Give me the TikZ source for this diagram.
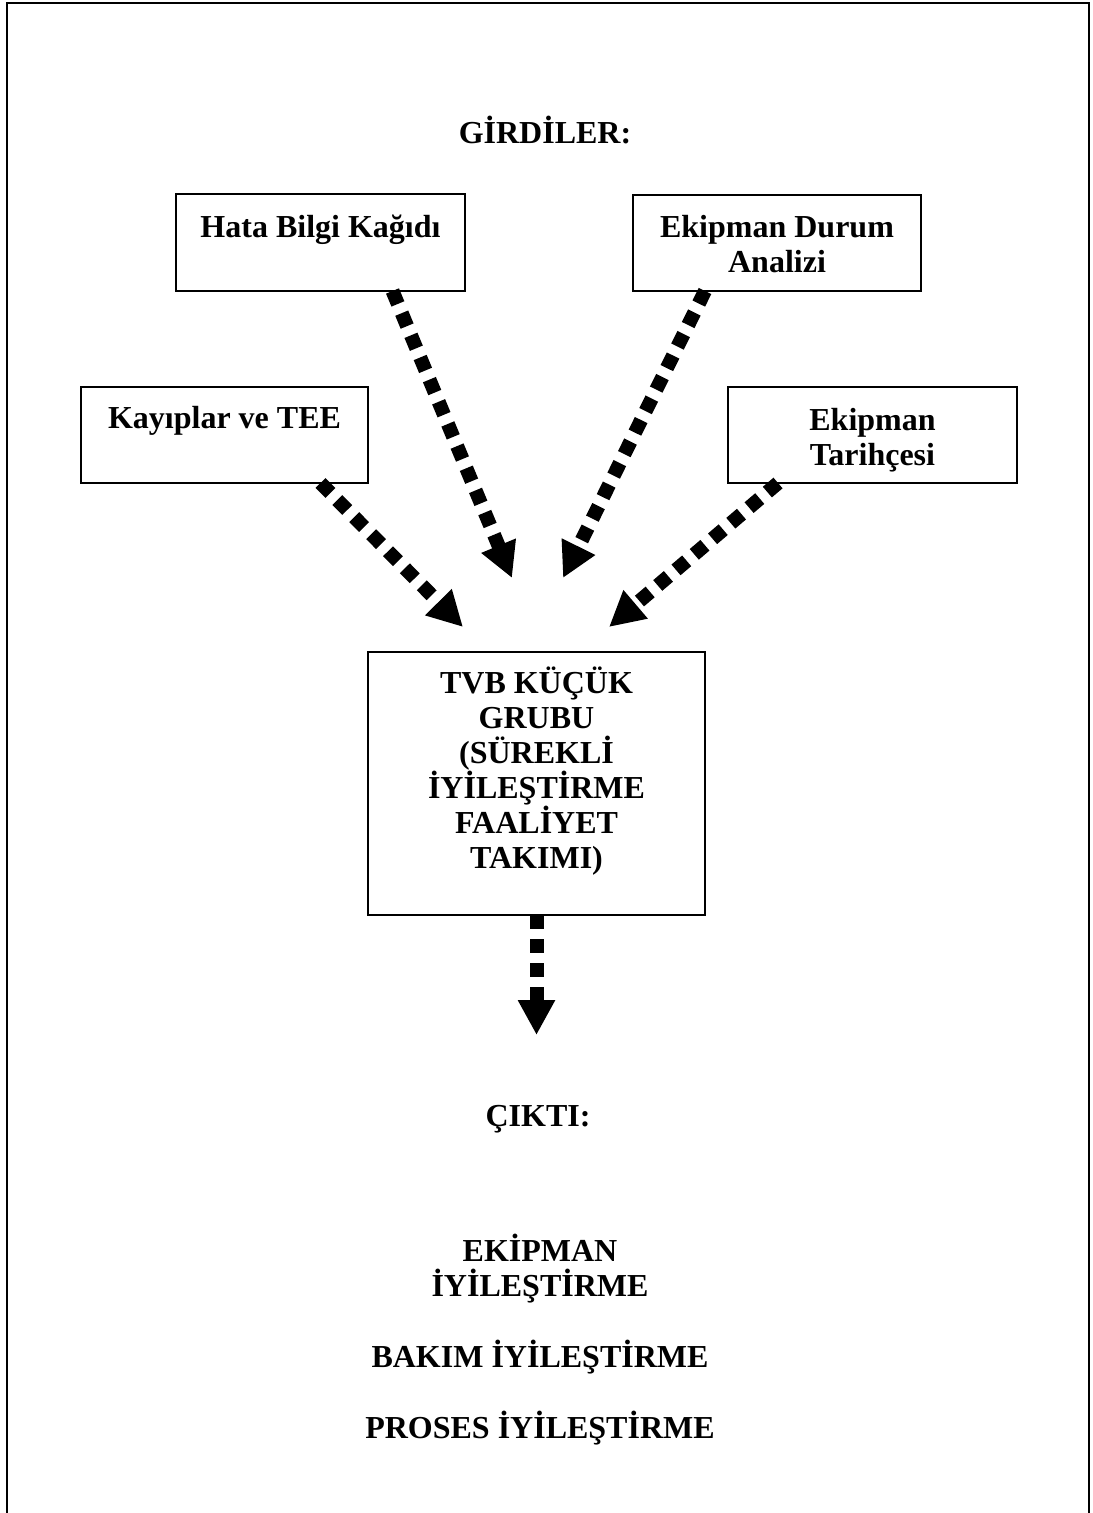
\documentclass[tikz,border=0pt]{standalone}
\usepackage{fontspec}
\setmainfont{Liberation Serif}
\usetikzlibrary{arrows.meta,calc}
% fixed-height strut so the first baseline sits at a known distance below a node's top
\newcommand\tstr{\rule{0pt}{15pt}}
\begin{document}
\begin{tikzpicture}[x=0.5pt,y=-0.5pt,
  box/.style={draw, line width=0.75pt, inner sep=0pt, outer sep=0pt},
  txt/.style={font=\fontsize{16}{17.5}\selectfont\bfseries, align=center, inner sep=0pt, anchor=north},
  head/.style={font=\fontsize{16}{17.5}\selectfont\bfseries, inner sep=0pt, anchor=base},
  flow/.style={line width=7pt, dash pattern=on 7pt off 5pt,
               -{Triangle[length=17.5pt,width=17.5pt]}}]
\useasboundingbox (0,0) rectangle (1092,1513);

% page frame, open at the bottom
\draw[line width=1pt] (7,1513) -- (7,3) -- (1089,3) -- (1089,1513);

% inputs
\node[head] (girdi) at (545,144) {GİRDİLER:};

\node[box, minimum width=144.5pt, minimum height=48.5pt] (hata) at (320.5,242.5) {};
\node[txt] (hataT) at ($(hata.north)+(0,13)$) {\tstr Hata Bilgi Kağıdı};

\node[box, minimum width=144pt, minimum height=48pt] (durum) at (777,243) {};
\node[txt] (durumT) at ($(durum.north)+(0,12)$) {\tstr Ekipman Durum\\Analizi};

\node[box, minimum width=143.5pt, minimum height=48pt] (kayip) at (224.5,435) {};
\node[txt] (kayipT) at ($(kayip.north)+(0,11)$) {\tstr Kayıplar ve TEE};

\node[box, minimum width=144.5pt, minimum height=48pt] (tarih) at (872.5,435) {};
\node[txt] (tarihT) at ($(tarih.north)+(0,13)$) {\tstr Ekipman\\Tarihçesi};

% central team box
\node[box, minimum width=168.5pt, minimum height=131.5pt] (tvb) at (536.5,783.5) {};
\node[txt] (tvbT) at ($(tvb.north)+(0,11)$) {\tstr TVB KÜÇÜK\\GRUBU\\(SÜREKLİ\\İYİLEŞTİRME\\FAALİYET\\TAKIMI)};

% arrow tips
\coordinate (t1) at (463,627);
\coordinate (t2) at (512,578);
\coordinate (t3) at (563,578);
\coordinate (t4) at (609,627);
\coordinate (t5) at (536.5,1035);

\draw[flow] ($(kayip.south)+(96,0)$) -- (t1);
\draw[flow] ($(hata.south)+(72,0)$) -- (t2);
\draw[flow] ($(durum.south)+(-72,0)$) -- (t3);
\draw[flow] ($(tarih.south)+(-94.5,0)$) -- (t4);
\draw[flow] (tvb.south) -- (t5);

% outputs
\node[head] (cikti) at (538,1126) {ÇIKTI:};
\node[txt] (ekip) at (540,1231) {\tstr EKİPMAN\\İYİLEŞTİRME};
\node[head] (bakim) at (540,1367) {BAKIM İYİLEŞTİRME};
\node[head] (proses) at (540,1438) {PROSES İYİLEŞTİRME};
\end{tikzpicture}
\end{document}
